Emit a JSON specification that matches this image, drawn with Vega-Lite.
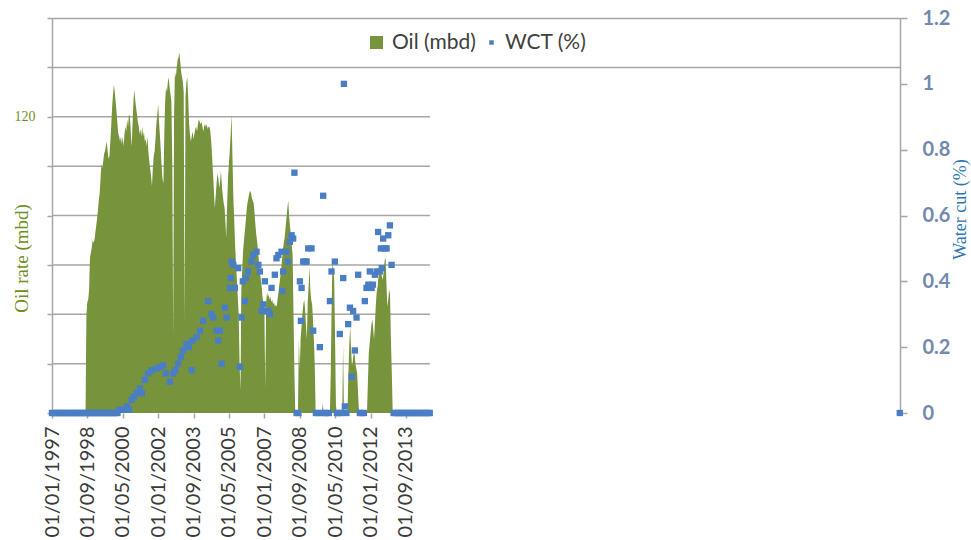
{
  "$schema": "https://vega.github.io/schema/vega-lite/v6.json",
  "width": 848,
  "height": 395,
  "autosize": "none",
  "padding": {"left": 52, "top": 18, "right": 71, "bottom": 127},
  "background": "white",
  "config": {"view": {"stroke": null}},
  "datasets": {
    "oil": [
      {"d":"1997-01-01","oil":0},{"d":"1998-08-01","oil":0},{"d":"1998-08-16","oil":40},{"d":"1998-09-01","oil":45},{"d":"1998-09-16","oil":46},
      {"d":"1998-10-01","oil":50},{"d":"1998-10-16","oil":63},{"d":"1998-11-01","oil":65},{"d":"1998-11-16","oil":67},{"d":"1998-12-01","oil":70},
      {"d":"1998-12-16","oil":69},{"d":"1999-01-01","oil":70},{"d":"1999-01-16","oil":73},{"d":"1999-02-01","oil":76},{"d":"1999-02-16","oil":79},
      {"d":"1999-03-01","oil":82},{"d":"1999-03-16","oil":86},{"d":"1999-04-01","oil":89},{"d":"1999-04-16","oil":95},{"d":"1999-05-01","oil":101},
      {"d":"1999-05-16","oil":99},{"d":"1999-06-01","oil":102},{"d":"1999-06-16","oil":105},{"d":"1999-07-01","oil":106},{"d":"1999-07-16","oil":108},
      {"d":"1999-08-01","oil":110},{"d":"1999-08-16","oil":106},{"d":"1999-09-01","oil":103},{"d":"1999-09-16","oil":104},{"d":"1999-10-01","oil":110},
      {"d":"1999-10-16","oil":116},{"d":"1999-11-01","oil":124},{"d":"1999-11-16","oil":129},{"d":"1999-12-01","oil":133},{"d":"1999-12-16","oil":130},
      {"d":"2000-01-01","oil":126},{"d":"2000-01-16","oil":122},{"d":"2000-02-01","oil":117},{"d":"2000-02-16","oil":113},{"d":"2000-03-01","oil":112},
      {"d":"2000-03-16","oil":110},{"d":"2000-04-01","oil":112},{"d":"2000-04-16","oil":109},{"d":"2000-05-01","oil":112},{"d":"2000-05-16","oil":108},
      {"d":"2000-06-01","oil":113},{"d":"2000-06-16","oil":116},{"d":"2000-07-01","oil":114},{"d":"2000-07-16","oil":119},{"d":"2000-08-01","oil":116},
      {"d":"2000-08-16","oil":121},{"d":"2000-09-01","oil":120},{"d":"2000-09-16","oil":114},{"d":"2000-10-01","oil":108},{"d":"2000-10-16","oil":116},
      {"d":"2000-11-01","oil":126},{"d":"2000-11-16","oil":131},{"d":"2000-12-01","oil":127},{"d":"2000-12-16","oil":124},{"d":"2001-01-01","oil":121},
      {"d":"2001-01-16","oil":118},{"d":"2001-02-01","oil":116},{"d":"2001-02-16","oil":113},{"d":"2001-03-01","oil":115},{"d":"2001-03-16","oil":112},
      {"d":"2001-04-01","oil":116},{"d":"2001-04-16","oil":112},{"d":"2001-05-01","oil":114},{"d":"2001-05-16","oil":110},{"d":"2001-06-01","oil":111},
      {"d":"2001-06-16","oil":108},{"d":"2001-07-01","oil":112},{"d":"2001-07-16","oil":106},{"d":"2001-08-01","oil":102},{"d":"2001-08-16","oil":99},
      {"d":"2001-09-01","oil":96},{"d":"2001-09-16","oil":92},{"d":"2001-10-01","oil":99},{"d":"2001-10-16","oil":104},{"d":"2001-11-01","oil":106},
      {"d":"2001-11-16","oil":111},{"d":"2001-12-01","oil":117},{"d":"2001-12-16","oil":121},{"d":"2002-01-01","oil":125},{"d":"2002-01-16","oil":118},
      {"d":"2002-02-01","oil":112},{"d":"2002-02-16","oil":106},{"d":"2002-03-01","oil":100},{"d":"2002-03-16","oil":95},{"d":"2002-04-01","oil":93},
      {"d":"2002-04-16","oil":112},{"d":"2002-05-01","oil":126},{"d":"2002-05-16","oil":132},{"d":"2002-06-01","oil":130},{"d":"2002-06-16","oil":134},
      {"d":"2002-07-01","oil":136},{"d":"2002-07-16","oil":132},{"d":"2002-08-01","oil":129},{"d":"2002-08-16","oil":126},{"d":"2002-09-01","oil":100},
      {"d":"2002-09-16","oil":31},{"d":"2002-10-01","oil":120},{"d":"2002-10-16","oil":138},{"d":"2002-11-01","oil":136},{"d":"2002-11-16","oil":140},
      {"d":"2002-12-01","oil":143},{"d":"2002-12-16","oil":144},{"d":"2003-01-01","oil":146},{"d":"2003-01-16","oil":142},{"d":"2003-02-01","oil":138},
      {"d":"2003-02-16","oil":136},{"d":"2003-03-01","oil":134},{"d":"2003-03-16","oil":130},{"d":"2003-04-01","oil":36},{"d":"2003-04-16","oil":128},
      {"d":"2003-05-01","oil":134},{"d":"2003-05-16","oil":136},{"d":"2003-06-01","oil":128},{"d":"2003-06-16","oil":117},{"d":"2003-07-01","oil":113},
      {"d":"2003-07-16","oil":110},{"d":"2003-08-01","oil":112},{"d":"2003-08-16","oil":114},{"d":"2003-09-01","oil":111},{"d":"2003-09-16","oil":113},
      {"d":"2003-10-01","oil":115},{"d":"2003-10-16","oil":116},{"d":"2003-11-01","oil":114},{"d":"2003-11-16","oil":117},{"d":"2003-12-01","oil":119},
      {"d":"2003-12-16","oil":118},{"d":"2004-01-01","oil":117},{"d":"2004-01-16","oil":118},{"d":"2004-02-01","oil":116},{"d":"2004-02-16","oil":114},
      {"d":"2004-03-01","oil":116},{"d":"2004-03-16","oil":117},{"d":"2004-04-01","oil":116},{"d":"2004-04-16","oil":117},{"d":"2004-05-01","oil":115},
      {"d":"2004-05-16","oil":116},{"d":"2004-06-01","oil":116},{"d":"2004-06-16","oil":114},{"d":"2004-07-01","oil":110},{"d":"2004-07-16","oil":104},
      {"d":"2004-08-01","oil":97},{"d":"2004-08-16","oil":90},{"d":"2004-09-01","oil":83},{"d":"2004-09-16","oil":88},{"d":"2004-10-01","oil":93},
      {"d":"2004-10-16","oil":97},{"d":"2004-11-01","oil":95},{"d":"2004-11-16","oil":91},{"d":"2004-12-01","oil":94},{"d":"2004-12-16","oil":98},
      {"d":"2005-01-01","oil":92},{"d":"2005-01-16","oil":88},{"d":"2005-02-01","oil":85},{"d":"2005-02-16","oil":83},{"d":"2005-03-01","oil":78},
      {"d":"2005-03-16","oil":71},{"d":"2005-04-01","oil":84},{"d":"2005-04-16","oil":95},{"d":"2005-05-01","oil":101},{"d":"2005-05-16","oil":106},
      {"d":"2005-06-01","oil":113},{"d":"2005-06-16","oil":121},{"d":"2005-07-01","oil":104},{"d":"2005-07-16","oil":88},{"d":"2005-08-01","oil":78},
      {"d":"2005-08-16","oil":68},{"d":"2005-09-01","oil":60},{"d":"2005-09-16","oil":54},{"d":"2005-10-01","oil":47},{"d":"2005-10-16","oil":40},
      {"d":"2005-11-01","oil":20},{"d":"2005-11-16","oil":9},{"d":"2005-12-01","oil":50},{"d":"2005-12-16","oil":58},{"d":"2006-01-01","oil":66},
      {"d":"2006-01-16","oil":70},{"d":"2006-02-01","oil":74},{"d":"2006-02-16","oil":78},{"d":"2006-03-01","oil":82},{"d":"2006-03-16","oil":85},
      {"d":"2006-04-01","oil":87},{"d":"2006-04-16","oil":89},{"d":"2006-05-01","oil":90},{"d":"2006-05-16","oil":89},{"d":"2006-06-01","oil":87},
      {"d":"2006-06-16","oil":86},{"d":"2006-07-01","oil":85},{"d":"2006-07-16","oil":81},{"d":"2006-08-01","oil":76},{"d":"2006-08-16","oil":72},
      {"d":"2006-09-01","oil":69},{"d":"2006-09-16","oil":65},{"d":"2006-10-01","oil":61},{"d":"2006-10-16","oil":57},{"d":"2006-11-01","oil":54},
      {"d":"2006-11-16","oil":51},{"d":"2006-12-01","oil":47},{"d":"2006-12-16","oil":44},{"d":"2007-01-01","oil":43},{"d":"2007-01-16","oil":10},
      {"d":"2007-02-01","oil":45},{"d":"2007-02-16","oil":49},{"d":"2007-03-01","oil":47},{"d":"2007-03-16","oil":48},{"d":"2007-04-01","oil":46},
      {"d":"2007-04-16","oil":47},{"d":"2007-05-01","oil":45},{"d":"2007-05-16","oil":46},{"d":"2007-06-01","oil":44},{"d":"2007-06-16","oil":45},
      {"d":"2007-07-01","oil":43},{"d":"2007-07-16","oil":44},{"d":"2007-08-01","oil":43},{"d":"2007-08-16","oil":46},{"d":"2007-09-01","oil":49},
      {"d":"2007-09-16","oil":52},{"d":"2007-10-01","oil":55},{"d":"2007-10-16","oil":58},{"d":"2007-11-01","oil":62},{"d":"2007-11-16","oil":66},
      {"d":"2007-12-01","oil":69},{"d":"2007-12-16","oil":71},{"d":"2008-01-01","oil":75},{"d":"2008-01-16","oil":79},{"d":"2008-02-01","oil":83},
      {"d":"2008-02-16","oil":86},{"d":"2008-03-01","oil":80},{"d":"2008-03-16","oil":76},{"d":"2008-04-01","oil":72},{"d":"2008-04-16","oil":68},
      {"d":"2008-05-01","oil":64},{"d":"2008-05-16","oil":40},{"d":"2008-06-01","oil":16},{"d":"2008-06-16","oil":0},{"d":"2008-08-01","oil":0},
      {"d":"2008-08-16","oil":30},{"d":"2008-09-01","oil":18},{"d":"2008-09-16","oil":30},{"d":"2008-10-01","oil":35},{"d":"2008-10-16","oil":40},
      {"d":"2008-11-01","oil":44},{"d":"2008-11-16","oil":46},{"d":"2008-12-01","oil":42},{"d":"2008-12-16","oil":36},{"d":"2009-01-01","oil":30},
      {"d":"2009-01-16","oil":45},{"d":"2009-02-01","oil":52},{"d":"2009-02-16","oil":59},{"d":"2009-03-01","oil":50},{"d":"2009-03-16","oil":46},
      {"d":"2009-04-01","oil":44},{"d":"2009-04-16","oil":38},{"d":"2009-05-01","oil":30},{"d":"2009-05-16","oil":20},{"d":"2009-06-01","oil":0},
      {"d":"2009-09-16","oil":0},{"d":"2009-10-01","oil":4},{"d":"2009-10-16","oil":0},{"d":"2010-02-01","oil":0},{"d":"2010-02-16","oil":16},
      {"d":"2010-03-01","oil":40},{"d":"2010-03-16","oil":61},{"d":"2010-04-01","oil":58},{"d":"2010-04-16","oil":54},{"d":"2010-05-01","oil":30},
      {"d":"2010-05-16","oil":3},{"d":"2010-06-01","oil":0},{"d":"2010-09-01","oil":0},{"d":"2010-09-16","oil":27},{"d":"2010-10-01","oil":0},
      {"d":"2010-12-01","oil":0},{"d":"2010-12-16","oil":16},{"d":"2011-01-01","oil":28},{"d":"2011-01-16","oil":35},{"d":"2011-02-01","oil":25},
      {"d":"2011-02-16","oil":19},{"d":"2011-03-01","oil":21},{"d":"2011-03-16","oil":24},{"d":"2011-04-01","oil":24},{"d":"2011-04-16","oil":20},
      {"d":"2011-05-01","oil":18},{"d":"2011-05-16","oil":16},{"d":"2011-06-01","oil":8},{"d":"2011-06-16","oil":0},{"d":"2011-11-01","oil":0},
      {"d":"2011-11-16","oil":12},{"d":"2011-12-01","oil":24},{"d":"2011-12-16","oil":28},{"d":"2012-01-01","oil":32},{"d":"2012-01-16","oil":36},
      {"d":"2012-02-01","oil":38},{"d":"2012-02-16","oil":34},{"d":"2012-03-01","oil":30},{"d":"2012-03-16","oil":36},{"d":"2012-04-01","oil":44},
      {"d":"2012-04-16","oil":49},{"d":"2012-05-01","oil":51},{"d":"2012-05-16","oil":55},{"d":"2012-06-01","oil":58},{"d":"2012-06-16","oil":59},
      {"d":"2012-07-01","oil":57},{"d":"2012-07-16","oil":55},{"d":"2012-08-01","oil":54},{"d":"2012-08-16","oil":58},{"d":"2012-09-01","oil":62},
      {"d":"2012-09-16","oil":63},{"d":"2012-10-01","oil":52},{"d":"2012-10-16","oil":43},{"d":"2012-11-01","oil":46},{"d":"2012-11-16","oil":50},
      {"d":"2012-12-01","oil":48},{"d":"2012-12-16","oil":30},{"d":"2013-01-01","oil":16},{"d":"2013-01-16","oil":0},{"d":"2014-10-18","oil":0}
    ],
    "wct": [
      {"d":"1997-01-01","w":0},{"d":"1997-02-01","w":0},{"d":"1997-03-01","w":0},{"d":"1997-04-01","w":0},{"d":"1997-05-01","w":0},{"d":"1997-06-01","w":0},
      {"d":"1997-07-01","w":0},{"d":"1997-08-01","w":0},{"d":"1997-09-01","w":0},{"d":"1997-10-01","w":0},{"d":"1997-11-01","w":0},{"d":"1997-12-01","w":0},
      {"d":"1998-01-01","w":0},{"d":"1998-02-01","w":0},{"d":"1998-03-01","w":0},{"d":"1998-04-01","w":0},{"d":"1998-05-01","w":0},{"d":"1998-06-01","w":0},
      {"d":"1998-07-01","w":0},{"d":"1998-08-01","w":0},{"d":"1998-09-01","w":0},{"d":"1998-10-01","w":0},{"d":"1998-11-01","w":0},{"d":"1998-12-01","w":0},
      {"d":"1999-01-01","w":0},{"d":"1999-02-01","w":0},{"d":"1999-03-01","w":0},{"d":"1999-04-01","w":0},{"d":"1999-05-01","w":0},{"d":"1999-06-01","w":0},
      {"d":"1999-07-01","w":0},{"d":"1999-08-01","w":0},{"d":"1999-09-01","w":0},{"d":"1999-10-01","w":0},{"d":"1999-11-01","w":0},{"d":"1999-12-01","w":0},
      {"d":"2000-01-01","w":0},{"d":"2000-02-01","w":0},{"d":"2000-03-01","w":0.01},{"d":"2000-04-01","w":0.01},{"d":"2000-05-21","w":0.01},{"d":"2000-07-12","w":0.02},
      {"d":"2000-08-20","w":0.01},{"d":"2000-10-01","w":0.04},{"d":"2000-11-09","w":0.05},{"d":"2000-12-26","w":0.06},{"d":"2001-02-22","w":0.075},{"d":"2001-03-26","w":0.06},
      {"d":"2001-05-16","w":0.10},{"d":"2001-07-12","w":0.12},{"d":"2001-09-10","w":0.13},{"d":"2001-12-05","w":0.135},{"d":"2002-02-01","w":0.14},{"d":"2002-03-27","w":0.145},
      {"d":"2002-05-12","w":0.12},{"d":"2002-07-20","w":0.095},{"d":"2002-09-16","w":0.12},{"d":"2002-10-23","w":0.13},{"d":"2002-12-11","w":0.15},{"d":"2003-01-26","w":0.17},
      {"d":"2003-03-05","w":0.19},{"d":"2003-05-03","w":0.21},{"d":"2003-06-12","w":0.20},{"d":"2003-07-28","w":0.13},{"d":"2003-08-11","w":0.22},{"d":"2003-10-23","w":0.23},
      {"d":"2003-12-19","w":0.25},{"d":"2004-02-14","w":0.28},{"d":"2004-05-09","w":0.34},{"d":"2004-07-07","w":0.30},{"d":"2004-08-04","w":0.29},{"d":"2004-10-02","w":0.25},
      {"d":"2004-10-29","w":0.22},{"d":"2004-11-28","w":0.25},{"d":"2004-12-26","w":0.15},{"d":"2005-02-22","w":0.32},{"d":"2005-03-21","w":0.29},{"d":"2005-05-17","w":0.38},
      {"d":"2005-06-01","w":0.41},{"d":"2005-06-16","w":0.46},{"d":"2005-07-16","w":0.45},{"d":"2005-08-12","w":0.38},{"d":"2005-10-08","w":0.44},{"d":"2005-11-06","w":0.14},
      {"d":"2005-12-05","w":0.29},{"d":"2005-12-27","w":0.40},{"d":"2006-02-01","w":0.34},{"d":"2006-02-18","w":0.41},{"d":"2006-03-27","w":0.43},{"d":"2006-05-25","w":0.46},
      {"d":"2006-06-22","w":0.48},{"d":"2006-08-20","w":0.49},{"d":"2006-09-20","w":0.45},{"d":"2006-10-15","w":0.43},{"d":"2006-11-14","w":0.31},{"d":"2006-12-11","w":0.33},
      {"d":"2007-01-10","w":0.40},{"d":"2007-02-09","w":0.31},{"d":"2007-03-10","w":0.31},{"d":"2007-04-05","w":0.30},{"d":"2007-05-04","w":0.38},{"d":"2007-06-30","w":0.42},
      {"d":"2007-07-29","w":0.47},{"d":"2007-08-29","w":0.48},{"d":"2007-10-23","w":0.49},{"d":"2007-11-07","w":0.37},{"d":"2007-11-20","w":0.43},{"d":"2008-01-18","w":0.49},
      {"d":"2008-02-10","w":0.46},{"d":"2008-03-14","w":0.52},{"d":"2008-04-13","w":0.54},{"d":"2008-05-10","w":0.53},{"d":"2008-06-01","w":0.73},{"d":"2008-07-08","w":0},
      {"d":"2008-08-08","w":0},{"d":"2008-09-03","w":0.40},{"d":"2008-09-20","w":0.28},{"d":"2008-10-02","w":0.38},{"d":"2008-10-30","w":0.46},{"d":"2008-12-07","w":0.46},
      {"d":"2008-12-27","w":0.46},{"d":"2009-01-24","w":0.50},{"d":"2009-03-22","w":0.50},{"d":"2009-04-19","w":0.25},{"d":"2009-06-05","w":0},{"d":"2009-07-09","w":0},
      {"d":"2009-08-12","w":0.20},{"d":"2009-09-16","w":0},{"d":"2009-10-08","w":0.66},{"d":"2009-11-07","w":0},{"d":"2009-12-11","w":0},{"d":"2010-01-15","w":0},
      {"d":"2010-02-02","w":0.34},{"d":"2010-03-01","w":0.43},{"d":"2010-04-27","w":0.46},{"d":"2010-06-01","w":0},{"d":"2010-07-05","w":0},{"d":"2010-07-21","w":0.24},
      {"d":"2010-08-17","w":0},{"d":"2010-09-18","w":0.41},{"d":"2010-09-30","w":1.0},{"d":"2010-10-16","w":0.02},{"d":"2010-11-12","w":0},{"d":"2010-12-12","w":0.27},
      {"d":"2011-01-11","w":0.32},{"d":"2011-02-10","w":0.11},{"d":"2011-03-07","w":0.31},{"d":"2011-04-06","w":0.19},{"d":"2011-05-05","w":0.29},{"d":"2011-06-02","w":0.42},
      {"d":"2011-07-01","w":0},{"d":"2011-08-04","w":0},{"d":"2011-09-08","w":0},{"d":"2011-09-25","w":0.34},{"d":"2011-10-24","w":0.38},{"d":"2011-11-24","w":0.39},
      {"d":"2011-12-20","w":0.43},{"d":"2012-01-19","w":0.38},{"d":"2012-02-11","w":0.39},{"d":"2012-03-15","w":0.42},{"d":"2012-04-14","w":0.43},{"d":"2012-05-10","w":0.55},
      {"d":"2012-06-09","w":0.43},{"d":"2012-06-26","w":0.50},{"d":"2012-07-13","w":0.44},{"d":"2012-08-05","w":0.53},{"d":"2012-09-04","w":0.50},{"d":"2012-10-03","w":0.50},
      {"d":"2012-11-01","w":0.54},{"d":"2012-11-29","w":0.57},{"d":"2012-12-28","w":0.45},
      {"d":"2013-02-01","w":0},{"d":"2013-03-01","w":0},{"d":"2013-04-01","w":0},{"d":"2013-05-01","w":0},{"d":"2013-06-01","w":0},{"d":"2013-07-01","w":0},
      {"d":"2013-08-01","w":0},{"d":"2013-09-01","w":0},{"d":"2013-10-01","w":0},{"d":"2013-11-01","w":0},{"d":"2013-12-01","w":0},{"d":"2014-01-01","w":0},
      {"d":"2014-02-01","w":0},{"d":"2014-03-01","w":0},{"d":"2014-04-01","w":0},{"d":"2014-05-01","w":0},{"d":"2014-06-01","w":0},{"d":"2014-07-01","w":0},
      {"d":"2014-08-01","w":0},{"d":"2014-09-01","w":0},{"d":"2014-10-01","w":0},{"d":"2014-10-15","w":0},
      {"d":"2036-12-01","w":0}
    ],
    "grid": [{"g":20},{"g":40},{"g":60},{"g":80},{"g":100},{"g":120}]
  },
  "layer": [
    {
      "data": {"name": "grid"},
      "mark": {"type": "rule", "color": "#A6A6A6", "strokeWidth": 1.5},
      "encoding": {
        "y": {"field": "g", "type": "quantitative", "scale": {"domain": [0, 160], "nice": false}, "axis": null},
        "x": {"datum": {"year": 1997, "month": 1, "date": 1, "utc": true}, "type": "temporal"},
        "x2": {"datum": {"year": 2014, "month": 10, "date": 18, "utc": true}}
      }
    },
    {
      "data": {"name": "oil"},
      "mark": {"type": "area", "interpolate": "linear", "opacity": 1},
      "encoding": {
        "x": {
          "field": "d", "type": "temporal",
          "scale": {"type": "utc", "domain": [{"year": 1997, "month": 1, "date": 1, "utc": true}, {"year": 2036, "month": 12, "date": 5, "utc": true}]},
          "axis": {
            "title": null,
            "values": [
              {"year": 1997, "month": 1, "date": 1, "utc": true},
              {"year": 1998, "month": 9, "date": 1, "utc": true},
              {"year": 2000, "month": 5, "date": 1, "utc": true},
              {"year": 2002, "month": 1, "date": 1, "utc": true},
              {"year": 2003, "month": 9, "date": 1, "utc": true},
              {"year": 2005, "month": 5, "date": 1, "utc": true},
              {"year": 2007, "month": 1, "date": 1, "utc": true},
              {"year": 2008, "month": 9, "date": 1, "utc": true},
              {"year": 2010, "month": 5, "date": 1, "utc": true},
              {"year": 2012, "month": 1, "date": 1, "utc": true},
              {"year": 2013, "month": 9, "date": 1, "utc": true}
            ],
            "labelExpr": "utcFormat(datum.value, '%d/%m/%Y')",
            "labelAngle": 270,
            "labelFont": "Lato",
            "labelFontSize": 20,
            "labelColor": "#3A3A3A",
            "labelPadding": 8,
            "labelOverlap": false,
            "labelFlush": false,
            "tickSize": 5,
            "tickColor": "#A6A6A6",
            "tickWidth": 1.5,
            "domain": false,
            "grid": false
          }
        },
        "y": {
          "field": "oil", "type": "quantitative",
          "scale": {"domain": [0, 160], "nice": false},
          "axis": {
            "orient": "left",
            "values": [0, 20, 40, 60, 80, 100, 120, 140, 160],
            "labelExpr": "datum.value == 120 ? '120' : ''",
            "labelFont": "Liberation Serif",
            "labelFontSize": 14,
            "labelColor": "#6F8F22",
            "labelPadding": 12,
            "tickSize": 5,
            "tickColor": "#A6A6A6",
            "tickWidth": 1.5,
            "domainColor": "#A6A6A6",
            "domainWidth": 1.5,
            "grid": true,
            "gridColor": "#A6A6A6",
            "gridWidth": 1.5,
            "gridOpacity": {"condition": {"test": "datum.value >= 140", "value": 1}, "value": 0},
            "title": "Oil rate (mbd)",
            "titleFont": "Liberation Serif",
            "titleFontWeight": "normal",
            "titleFontSize": 19,
            "titleColor": "#6F8F22",
            "titleAngle": -90,
            "titleAlign": "center",
            "titleBaseline": "middle",
            "titleX": -31,
            "titleY": 240
          }
        },
        "color": {
          "datum": "Oil (mbd)",
          "scale": {"domain": ["Oil (mbd)"], "range": ["#77933C"]},
          "legend": {
            "title": null,
            "orient": "none",
            "legendX": 314,
            "legendY": 14,
            "symbolType": "square",
            "symbolStrokeWidth": 0,
            "symbolSize": 170,
            "labelFont": "Lato",
            "labelFontSize": 21,
            "labelColor": "#404040",
            "labelOffset": 5,
            "padding": 0
          }
        }
      }
    },
    {
      "data": {"name": "wct"},
      "mark": {"type": "point", "shape": "square", "filled": true, "size": 40, "opacity": 1},
      "encoding": {
        "x": {"field": "d", "type": "temporal"},
        "y": {
          "field": "w", "type": "quantitative",
          "scale": {"domain": [0, 1.2], "nice": false},
          "axis": {
            "orient": "right",
            "values": [0, 0.2, 0.4, 0.6, 0.8, 1, 1.2],
            "format": "~g",
            "labelFont": "Lato",
            "labelFontWeight": "bold",
            "labelFontSize": 20,
            "labelColor": "#7389B0",
            "labelPadding": 15,
            "tickSize": 7,
            "tickColor": "#A6A6A6",
            "tickWidth": 1.5,
            "domainColor": "#A6A6A6",
            "domainWidth": 1.5,
            "grid": false,
            "title": "Water cut (%)",
            "titleFont": "Liberation Serif",
            "titleFontWeight": "normal",
            "titleFontSize": 18,
            "titleColor": "#2E75B6",
            "titleAngle": -90,
            "titleAlign": "center",
            "titleBaseline": "middle",
            "titleX": 60,
            "titleY": 191
          }
        },
        "color": {
          "datum": "WCT (%)",
          "scale": {"domain": ["WCT (%)"], "range": ["#4A7EC4"]},
          "legend": {
            "title": null,
            "orient": "none",
            "legendX": 429,
            "legendY": 14,
            "symbolType": "square",
            "symbolStrokeWidth": 0,
            "symbolSize": 20,
            "labelFont": "Lato",
            "labelFontSize": 21,
            "labelColor": "#404040",
            "labelOffset": 3,
            "padding": 0
          }
        }
      }
    }
  ],
  "resolve": {"scale": {"y": "independent", "color": "independent"}}
}
